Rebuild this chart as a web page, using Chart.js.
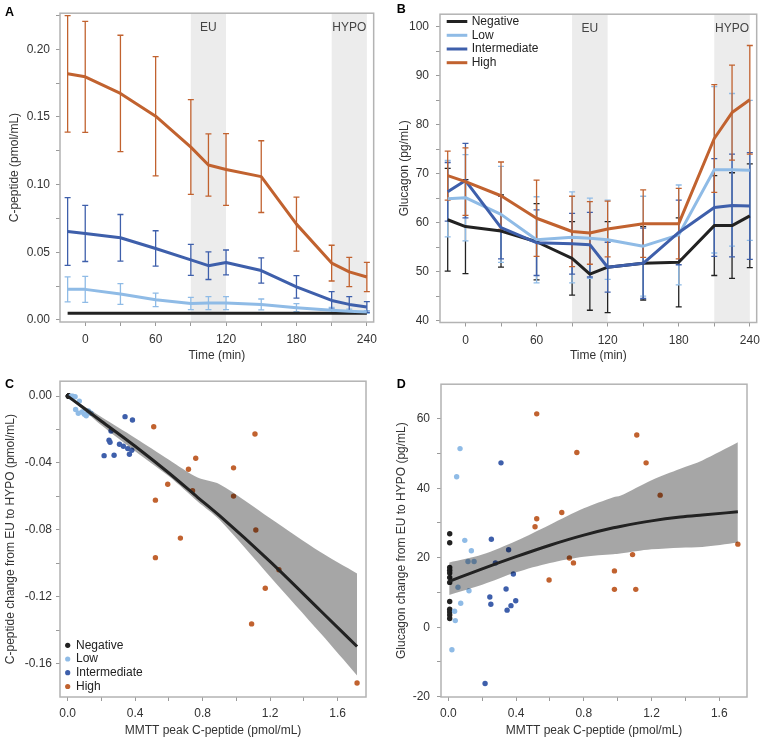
<!DOCTYPE html>
<html><head><meta charset="utf-8">
<script src="https://cdn.jsdelivr.net/npm/chart.js@4.4.0/dist/chart.umd.min.js"></script>
<style>
html,body{margin:0;padding:0;background:#fff;}
#wrap{position:relative;width:767px;height:742px;overflow:hidden;}
canvas{position:absolute;display:block;}
</style></head><body>
<div id="wrap">
<canvas id="cA" width="383" height="370" style="left:0;top:0"></canvas>
<canvas id="cB" width="384" height="370" style="left:383px;top:0"></canvas>
<canvas id="cC" width="383" height="372" style="left:0;top:370px"></canvas>
<canvas id="cD" width="384" height="372" style="left:383px;top:370px"></canvas>
</div>
<script>
// ---------- data ----------
const groupNames = ['Negative','Low','Intermediate','High'];
const times = [-15,0,30,60,90,105,120,150,180,210,225,240];

// Panel A: C-peptide (pmol/mL), mean and error half-width
const aNeg  = [0.005,0.005,0.005,0.005,0.005,0.005,0.005,0.005,0.005,0.005,0.005,0.005];
const aLow  = [0.0226,0.0226,0.0192,0.0149,0.0122,0.0125,0.0125,0.0115,0.0091,0.0072,0.0065,0.0058];
const aInt  = [0.0653,0.0639,0.0607,0.0528,0.0444,0.0401,0.0425,0.0365,0.0245,0.0144,0.0115,0.0096];
const aHigh = [0.1818,0.1796,0.1673,0.1505,0.1277,0.1145,0.1112,0.1059,0.0708,0.0420,0.0355,0.0317];
const aNegErr  = [0,0,0,0,0,0,0,0,0,0,0,0];
const aLowErr  = [0.0093,0.0096,0.0077,0.0050,0.0045,0.0048,0.0048,0.0040,0.0030,0.0020,0.0015,0.0010];
const aIntErr  = [0.0250,0.0207,0.0172,0.0131,0.0114,0.0102,0.0092,0.0093,0.0083,0.0065,0.0058,0.0040];
const aHighErr = [0.0430,0.0410,0.0430,0.0440,0.0350,0.0230,0.0265,0.0265,0.0200,0.0132,0.0108,0.0108];

// Panel B: Glucagon (pg/mL)
const bNeg  = [60.6,59.2,58.3,56.1,52.7,49.5,50.9,51.7,51.9,59.4,59.4,61.4];
const bLow  = [64.9,65.1,61.7,56.5,57.0,56.8,56.5,55.2,57.5,70.8,70.8,70.7];
const bInt  = [66.3,68.6,59.0,55.9,55.7,55.5,50.9,51.7,58.0,63.1,63.5,63.4];
const bHigh = [69.6,68.4,65.5,60.9,58.2,57.9,58.7,59.8,59.8,77.2,82.5,85.1];
const bNegErr  = [10.5,9.6,7.4,7.8,7.5,7.4,9.3,7.5,9.1,10.2,10.8,10.6];
const bLowErr  = [7.8,8.8,9.8,8.8,9.3,8.2,8.1,10.2,10.2,17.0,15.6,14.3];
const bIntErr  = [6.0,7.6,6.4,6.7,6.2,6.6,5.1,7.2,6.6,10.0,10.5,10.9];
const bHighErr = [5.0,6.9,6.9,7.8,7.2,6.4,5.7,6.9,7.2,11.0,9.7,11.1];

// Panel C: MMTT peak C-peptide vs C-peptide change EU->HYPO
const cNegX  = [0.004,0.005,0.006,0.007,0.008,0.005,0.006,0.007,0.004,0.008,0.006,0.005];
const cNegY  = [0,0,0,0,0,0,0,0,0,0,0,0];
const cLowX  = [0.020,0.030,0.044,0.024,0.069,0.047,0.063,0.099,0.123,0.138,0.085,0.110];
const cLowY  = [0,0,-0.0004,-0.001,-0.003,-0.008,-0.0103,-0.0109,-0.0089,-0.0103,-0.0095,-0.0118];
const cIntX  = [0.340,0.384,0.245,0.251,0.216,0.275,0.307,0.356,0.366,0.380,0.257,0.330];
const cIntY  = [-0.0123,-0.0143,-0.0264,-0.0276,-0.0356,-0.0354,-0.0288,-0.0314,-0.0348,-0.0324,-0.0209,-0.0300];
const cHighX = [0.510,1.110,0.759,0.716,0.983,0.593,0.740,0.520,0.983,0.668,1.115,0.520,1.252,1.171,1.090,1.715];
const cHighY = [-0.0183,-0.0227,-0.0372,-0.0437,-0.0429,-0.0527,-0.0566,-0.0622,-0.0598,-0.0849,-0.0801,-0.0966,-0.1038,-0.1149,-0.1362,-0.1715];
const cFitX  = [0,0.2,0.4,0.6,0.77,0.9,1.2,1.5,1.715];
const cFitY  = [0,-0.0150,-0.0300,-0.0460,-0.0605,-0.0715,-0.0990,-0.1285,-0.1497];
const cBandHi= [0,-0.0125,-0.0250,-0.0380,-0.0487,-0.0527,-0.0730,-0.0934,-0.1060];
const cBandLo= [0,-0.0175,-0.0330,-0.0480,-0.0630,-0.0740,-0.1080,-0.1420,-0.1670];

// Panel D: MMTT peak C-peptide vs glucagon change EU->HYPO
const dNegX  = [0.008,0.008,0.008,0.008,0.008,0.008,0.008,0.008,0.008,0.008,0.008,0.008];
const dNegY  = [26.9,24.3,17.2,16.4,15.6,14.3,12.9,7.4,5.2,4.4,3.5,2.5];
const dLowX  = [0.069,0.049,0.097,0.136,0.116,0.152,0.057,0.122,0.073,0.037,0.041,0.021];
const dLowY  = [51.4,43.3,25.0,22.0,18.9,18.9,11.5,10.5,6.9,4.6,1.9,-6.5];
const dIntX  = [0.311,0.254,0.356,0.278,0.384,0.341,0.245,0.251,0.398,0.370,0.347,0.217];
const dIntY  = [47.3,25.3,22.3,18.5,15.3,11.0,8.7,6.6,7.6,6.2,4.9,-16.2];
const dHighX = [0.522,1.113,0.759,1.168,1.251,0.670,0.522,0.512,1.710,0.715,1.088,0.739,0.595,0.981,0.981,1.107];
const dHighY = [61.4,55.3,50.3,47.3,38.0,33.0,31.2,28.9,23.9,19.9,20.9,18.5,13.6,16.2,10.9,10.9];
const dFitX  = [0.005,0.2,0.4,0.6,0.8,0.975,1.015,1.2,1.37,1.5,1.71];
const dFitY  = [13.2,16.8,20.3,23.6,26.5,28.6,29.0,30.6,31.7,32.3,33.2];
const dBandHi= [18.6,20.9,24.8,29.5,34.2,37.4,37.8,42.3,45.6,48.0,53.2];
const dBandLo= [9.3,12.2,15.8,18.5,20.3,21.0,21.2,22.4,22.9,23.1,24.4];

// ticks and labels
const timeTicks  = [0,30,60,90,120,150,180,210,240];
const timeLabels = ['0','','60','','120','','180','','240'];
const aYTicks  = [0,0.025,0.05,0.075,0.1,0.125,0.15,0.175,0.2,0.225];
const aYLabels = ['0.00','','0.05','','0.10','','0.15','','0.20',''];
const bYTicks  = [40,45,50,55,60,65,70,75,80,85,90,95,100];
const bYLabels = ['40','','50','','60','','70','','80','','90','','100'];
const mmttTicks  = [0,0.2,0.4,0.6,0.8,1.0,1.2,1.4,1.6];
const mmttLabels = ['0.0','','0.4','','0.8','','1.2','','1.6'];
const cYTicks  = [0,-0.02,-0.04,-0.06,-0.08,-0.1,-0.12,-0.14,-0.16];
const cYLabels = ['0.00','','-0.04','','-0.08','','-0.12','','-0.16'];
const dYTicks  = [-20,-10,0,10,20,30,40,50,60];
const dYLabels = ['-20','','0','','20','','40','','60'];
const bandRanges = [[90,120],[210,240]];
const bandLabels = ['EU','HYPO'];

// ---------- style ----------
const FONT = '"Liberation Sans", Arial, Helvetica, sans-serif';
const TXT = '#333333';
const FRAME = '#b3b3b3';
const SHADE = '#ececec';
const COLS = ['#222222','#8fbbe6','#3e5fab','#c1622f'];

function mkScale(o){
  return {
    type:'linear', min:o.min, max:o.max,
    afterBuildTicks: s => { s.ticks = o.ticks.map(v=>({value:v})); },
    ticks:{autoSkip:false, maxRotation:0, minRotation:0, color:TXT,
      font:{family:FONT,size:12}, padding:o.pad,
      callback:(v,i)=>o.labels[i]},
    grid:{drawOnChartArea:false, drawTicks:true, tickLength:4, tickColor:'#9a9a9a', tickWidth:1},
    border:{display:false},
    title:{display:true, text:o.title, color:TXT, font:{family:FONT,size:12},
      padding: o.axis==='x' ? {top:0,bottom:o.tpad} : {top:o.tpad,bottom:0}},
    afterFit: s => { if(o.axis==='x') s.height=o.size; else s.width=o.size; }
  };
}

function framePlugin(letter, lx, ly){
  return {id:'frame'+letter, afterDraw(chart){
    const {ctx, chartArea:ca} = chart;
    ctx.save();
    ctx.strokeStyle = FRAME; ctx.lineWidth = 1.5;
    ctx.strokeRect(ca.left, ca.top, ca.right-ca.left, ca.bottom-ca.top);
    ctx.fillStyle = '#000'; ctx.font = 'bold 12.5px '+FONT;
    ctx.textAlign='left'; ctx.textBaseline='alphabetic';
    ctx.fillText(letter, lx, ly);
    ctx.restore();
  }};
}

function bandErrPlugin(series){
  return {id:'bandErr', beforeDatasetsDraw(chart){
    const {ctx, chartArea:ca, scales:{x,y}} = chart;
    ctx.save();
    ctx.fillStyle = SHADE;
    bandRanges.forEach(r=>{
      const x0=x.getPixelForValue(r[0]), x1=x.getPixelForValue(r[1]);
      ctx.fillRect(x0, ca.top+0.75, x1-x0, ca.bottom-ca.top-1.5);
    });
    ctx.fillStyle='#444'; ctx.font='12px '+FONT; ctx.textAlign='center'; ctx.textBaseline='middle';
    bandRanges.forEach((r,i)=>{
      ctx.fillText(bandLabels[i], x.getPixelForValue((r[0]+r[1])/2), ca.top+14);
    });
    ctx.beginPath(); ctx.rect(ca.left, ca.top, ca.right-ca.left, ca.bottom-ca.top); ctx.clip();
    series.forEach(s=>{
      ctx.strokeStyle = s.color; ctx.lineWidth = 1.3;
      s.mean.forEach((m,i)=>{
        const e = s.err[i]; if(!e) return;
        const px = x.getPixelForValue(times[i]);
        const yt = y.getPixelForValue(m+e), yb = y.getPixelForValue(m-e);
        ctx.beginPath();
        ctx.moveTo(px,yt); ctx.lineTo(px,yb);
        ctx.moveTo(px-3,yt); ctx.lineTo(px+3,yt);
        ctx.moveTo(px-3,yb); ctx.lineTo(px+3,yb);
        ctx.stroke();
      });
    });
    ctx.restore();
  }};
}

function lineLegendPlugin(x0, x1, tx, ys){
  return {id:'lineLegend', afterDraw(chart){
    const ctx = chart.ctx; ctx.save();
    ctx.font='12px '+FONT; ctx.textAlign='left'; ctx.textBaseline='middle';
    groupNames.forEach((n,i)=>{
      ctx.strokeStyle=COLS[i]; ctx.lineWidth=3;
      ctx.beginPath(); ctx.moveTo(x0,ys[i]); ctx.lineTo(x1,ys[i]); ctx.stroke();
      ctx.fillStyle='#222'; ctx.fillText(n, tx, ys[i]);
    });
    ctx.restore();
  }};
}

function dotLegendPlugin(dx, tx, ys){
  return {id:'dotLegend', afterDraw(chart){
    const ctx = chart.ctx; ctx.save();
    ctx.font='12px '+FONT; ctx.textAlign='left'; ctx.textBaseline='middle';
    groupNames.forEach((n,i)=>{
      ctx.fillStyle=COLS[i];
      ctx.beginPath(); ctx.arc(dx, ys[i], 2.6, 0, Math.PI*2); ctx.fill();
      ctx.fillStyle='#222'; ctx.fillText(n, tx, ys[i]);
    });
    ctx.restore();
  }};
}

function pts(xs, ys){ return xs.map((v,i)=>({x:v, y:ys[i]})); }

const baseOpts = (padding) => ({
  responsive:false, animation:false, events:[],
  layout:{padding, autoPadding:false},
  plugins:{legend:{display:false}, tooltip:{enabled:false}}
});

function timeChart(id, means, errs, yMin, yMax, yTicks, yLabels, yTitle, geom, letter, extraPlugins){
  const datasets = means.map((m,i)=>({
    type:'line', data:pts(times, m), borderColor:COLS[i], borderWidth:3,
    pointRadius:0, tension:0, fill:false, order:4-i, borderJoinStyle:'round'
  }));
  const series = means.map((m,i)=>({mean:m, err:errs[i], color:COLS[i]}));
  const opts = baseOpts(geom.padding);
  opts.scales = {
    x: mkScale({axis:'x', min:-21.5, max:245.8, ticks:timeTicks, labels:timeLabels, title:'Time (min)', pad:geom.xpad, tpad:geom.xtpad, size:geom.xh}),
    y: mkScale({axis:'y', min:yMin, max:yMax, ticks:yTicks, labels:yLabels, title:yTitle, pad:geom.ypad, tpad:geom.ytpad, size:geom.yw})
  };
  return new Chart(document.getElementById(id), {
    type:'line', data:{datasets}, options:opts,
    plugins:[bandErrPlugin(series), framePlugin(letter, geom.lx, geom.ly)].concat(extraPlugins||[])
  });
}

// Panel A
timeChart('cA', [aNeg,aLow,aInt,aHigh], [aNegErr,aLowErr,aIntErr,aHighErr],
  -0.0015, 0.2266, aYTicks, aYLabels, 'C-peptide (pmol/mL)',
  {padding:{left:0,top:5,right:6,bottom:0}, xh:48, yw:60, xpad:6, ypad:6, xtpad:6.8, ytpad:7.8, lx:5, ly:15.7}, 'A');

// Panel B
timeChart('cB', [bNeg,bLow,bInt,bHigh], [bNegErr,bLowErr,bIntErr,bHighErr],
  39.6, 102.6, bYTicks, bYLabels, 'Glucagon (pg/mL)',
  {padding:{left:0,top:5,right:8,bottom:0}, xh:47.5, yw:57, xpad:7, ypad:7, xtpad:6.8, ytpad:14.8, lx:13.7, ly:13.3}, 'B',
  [lineLegendPlugin(63.7, 84.3, 88.7, [21.5,35.3,49,62.7])]);

// Scatter panels
function scatterChart(id, groupsX, groupsY, fitX, fitY, bandLo, bandHi, xr, yr, yTicks, yLabels, yTitle, geom, letter, extraPlugins){
  const datasets = [];
  groupsX.forEach((gx,i)=>{
    datasets.push({type:'scatter', data:pts(gx, groupsY[i]), backgroundColor:COLS[i],
      borderWidth:0, pointRadius:2.7, order:10+(4-i)});
  });
  datasets.push({type:'line', data:pts(fitX, bandLo), borderWidth:0, pointRadius:0, fill:false, order:5, tension:0.3});
  datasets.push({type:'line', data:pts(fitX, bandHi), borderWidth:0, pointRadius:0, tension:0.3,
    fill:'-1', backgroundColor:'rgba(0,0,0,0.35)', order:4});
  datasets.push({type:'line', data:pts(fitX, fitY), borderColor:'#222222', borderWidth:3,
    pointRadius:0, fill:false, order:1, tension:0.4, cubicInterpolationMode:'monotone'});
  const opts = baseOpts(geom.padding);
  opts.scales = {
    x: mkScale({axis:'x', min:xr[0], max:xr[1], ticks:mmttTicks, labels:mmttLabels, title:'MMTT peak C-peptide (pmol/mL)', pad:geom.xpad, tpad:geom.xtpad, size:geom.xh}),
    y: mkScale({axis:'y', min:yr[0], max:yr[1], ticks:yTicks, labels:yLabels, title:yTitle, pad:geom.ypad, tpad:geom.ytpad, size:geom.yw})
  };
  return new Chart(document.getElementById(id), {
    type:'scatter', data:{datasets}, options:opts,
    plugins:[framePlugin(letter, geom.lx, geom.ly)].concat(extraPlugins||[])
  });
}

scatterChart('cC', [cNegX,cLowX,cIntX,cHighX], [cNegY,cLowY,cIntY,cHighY], cFitX, cFitY, cBandLo, cBandHi,
  [-0.0455, 1.768], [-0.1799, 0.0089], cYTicks, cYLabels, 'C-peptide change from EU to HYPO (pmol/mL)',
  {padding:{left:0,top:10,right:17,bottom:0}, xh:45, yw:60, xpad:5.8, ypad:4, xtpad:3.8, ytpad:3.8, lx:5, ly:18.3}, 'C',
  [dotLegendPlugin(67.7, 76, [275.3,289,302.7,316.5])]);

scatterChart('cD', [dNegX,dLowX,dIntX,dHighX], [dNegY,dLowY,dIntY,dHighY], dFitX, dFitY, dBandLo, dBandHi,
  [-0.0434, 1.764], [-20.09, 69.94], dYTicks, dYLabels, 'Glucagon change from EU to HYPO (pg/mL)',
  {padding:{left:0,top:9,right:20,bottom:0}, xh:45, yw:58, xpad:5.8, ypad:7, xtpad:3.8, ytpad:11.8, lx:13.7, ly:18.3}, 'D');
</script>
</body></html>
